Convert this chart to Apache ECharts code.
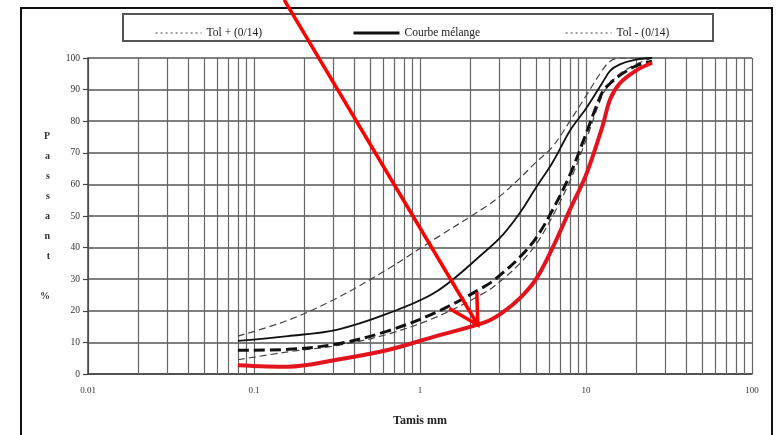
<!DOCTYPE html>
<html>
<head>
<meta charset="utf-8">
<script src="https://cdn.jsdelivr.net/npm/echarts@6/dist/echarts.min.js"></script>
<style>
html,body{margin:0;padding:0;background:#fff;}
#c{width:782px;height:435px;}
</style>
</head>
<body>
<div id="c"></div>
<script>
// Sieve sizes (mm)
const sieves = [0.08, 0.16, 0.315, 0.63, 1.25, 2.5, 3.15, 4, 5, 6.3, 8, 10, 12.5, 14, 16, 20, 25];
// Passing (%)
const tolPlus   = [12, 17, 24, 33, 43, 53, 57, 62, 67, 72, 80, 88, 96, 99, 100, 100, 100];
const melange   = [10.5, 12, 14, 19, 26, 39, 44, 51, 59, 67, 77, 84, 92, 96, 98, 99.5, 100];
const tolMinus  = [4.5, 7, 9, 12.5, 18, 26, 30, 35, 41, 50, 61, 74, 88, 92, 95, 98, 100];
const courbeB   = [7.5, 7.8, 9.5, 13.5, 19.5, 28, 32, 37, 43, 52, 63, 76, 89, 92, 94.5, 97.5, 99];
const courbeRed = [2.8, 2.3, 4.5, 7.5, 12, 16.5, 19.5, 24, 30, 40, 52, 63, 78, 87, 92, 96, 98.5];
// Axis ticks
const yTicks = [0, 10, 20, 30, 40, 50, 60, 70, 80, 90, 100];
const xMajor = [0.01, 0.1, 1, 10, 100];
const xMinor = [0.02,0.03,0.04,0.05,0.06,0.07,0.08,0.09,
                0.2,0.3,0.4,0.5,0.6,0.7,0.8,0.9,
                2,3,4,5,6,7,8,9,
                20,30,40,50,60,70,80,90];
// Annotation arrow (data coordinates)
const arrowStart = [0.152, 118.4];
const arrowTip = [2.23, 15.5];

const pairs = (ys) => sieves.map((x, i) => [x, ys[i]]);
const serif = '"Liberation Serif", "DejaVu Serif", serif';

const chart = echarts.init(document.getElementById('c'), null, {renderer: 'canvas'});

const legendBase = {
  top: 22, itemWidth: 46, itemHeight: 10, itemGap: 4,
  textStyle: {fontFamily: serif, fontSize: 11.5, color: '#222'},
  selectedMode: false
};
const noSym = {opacity: 0, borderWidth: 0};

const option = {
  animation: false,
  backgroundColor: '#fff',
  grid: {left: 88, right: 30, top: 58, bottom: 61, containLabel: false},
  legend: [
    Object.assign({}, legendBase, {left: 150, data: [{name: 'Tol + (0/14)', itemStyle: noSym, lineStyle: {width: 1.2, type: [2, 3], color: '#444'}}]}),
    Object.assign({}, legendBase, {left: 347, data: [{name: 'Courbe mélange', itemStyle: noSym, lineStyle: {width: 3, type: 'solid', color: '#111'}}]}),
    Object.assign({}, legendBase, {left: 560, data: [{name: 'Tol - (0/14)', itemStyle: noSym, lineStyle: {width: 1.2, type: [2, 3], color: '#444'}}]})
  ],
  xAxis: {
    type: 'log', logBase: 10, min: 0.01, max: 100,
    name: 'Tamis mm', nameLocation: 'middle', nameGap: 41,
    nameTextStyle: {fontFamily: serif, fontSize: 12, fontWeight: 'bold', color: '#222'},
    axisLine: {show: true, lineStyle: {color: '#444', width: 1.5}},
    axisTick: {show: false},
    axisLabel: {fontFamily: serif, fontSize: 9, color: '#333', margin: 12,
      formatter: (v) => xMajor.some(m => Math.abs(m - v) / m < 1e-6) ? String(v) : ''},
    splitLine: {show: true, lineStyle: {color: '#666', width: 1.2}}
  },
  yAxis: {
    type: 'value', min: 0, max: 100, interval: 10,
    name: 'P\na\ns\ns\na\nn\nt\n\n%', nameLocation: 'middle', nameGap: 38, nameRotate: 0,
    nameTextStyle: {fontFamily: serif, fontSize: 10, fontWeight: 'bold', color: '#333', lineHeight: 20},
    axisLine: {show: true, lineStyle: {color: '#444', width: 1.5}},
    axisTick: {show: true, length: 5, lineStyle: {color: '#444', width: 1.2}},
    axisLabel: {fontFamily: serif, fontSize: 9.5, color: '#333', margin: 8,
      formatter: (v) => yTicks.includes(v) ? String(v) : ''},
    splitLine: {show: true, lineStyle: {color: '#555', width: 1.5}}
  },
  series: [
    {
      name: 'Tol + (0/14)', type: 'line', data: pairs(tolPlus), smooth: 0.35,
      showSymbol: false, symbol: 'none', z: 3, itemStyle: {color: '#444'},
      lineStyle: {color: '#444', width: 1.2, type: [7, 4]},
      markLine: {
        silent: true, symbol: ['none', 'none'], label: {show: false},
        lineStyle: {color: '#666', width: 1.2, type: 'solid'},
        data: xMinor.map(v => ({xAxis: v})), z: 1
      }
    },
    {
      name: 'Courbe mélange', type: 'line', data: pairs(melange), smooth: 0.35,
      showSymbol: false, symbol: 'none', z: 4, itemStyle: {color: '#111'},
      lineStyle: {color: '#111', width: 1.8, type: 'solid'}
    },
    {
      name: 'Tol - (0/14)', type: 'line', data: pairs(tolMinus), smooth: 0.35,
      showSymbol: false, symbol: 'none', z: 3, itemStyle: {color: '#444'},
      lineStyle: {color: '#444', width: 1.2, type: [7, 4]}
    },
    {
      name: 'Courbe 2', type: 'line', data: pairs(courbeB), smooth: 0.35,
      showSymbol: false, symbol: 'none', z: 5, itemStyle: {color: '#111'},
      lineStyle: {color: '#111', width: 3, type: [11, 5]}
    },
    {
      name: 'Courbe 3', type: 'line', data: pairs(courbeRed), smooth: 0.35,
      showSymbol: false, symbol: 'none', z: 6, itemStyle: {color: '#e3141e'},
      lineStyle: {color: '#e3141e', width: 4, type: 'solid'}
    }
  ]
};

chart.setOption(option);

// Frame, legend box and arrow annotation
const p0 = chart.convertToPixel({xAxisIndex: 0, yAxisIndex: 0}, arrowStart);
const p1 = chart.convertToPixel({xAxisIndex: 0, yAxisIndex: 0}, arrowTip);
const ang = Math.atan2(p0[1] - p1[1], p0[0] - p1[0]);
const wing = 33, spread = 29 * Math.PI / 180;
const w1 = [p1[0] + wing * Math.cos(ang + spread), p1[1] + wing * Math.sin(ang + spread)];
const w2 = [p1[0] + wing * Math.cos(ang - spread), p1[1] + wing * Math.sin(ang - spread)];

chart.setOption({
  graphic: [
    {type: 'rect', shape: {x: 21, y: 8, width: 751, height: 440}, style: {fill: 'none', stroke: '#111', lineWidth: 2}, z: 0, silent: true},
    {type: 'rect', shape: {x: 123, y: 14, width: 590, height: 27}, style: {fill: 'none', stroke: '#555', lineWidth: 2}, z: 0, silent: true},
    {type: 'polyline', shape: {points: [p0, p1]}, style: {stroke: '#f00', lineWidth: 3.5, fill: 'none'}, z: 100, silent: true},
    {type: 'polyline', shape: {points: [w1, p1, w2]}, style: {stroke: '#f00', lineWidth: 3.5, fill: 'none', lineJoin: 'miter'}, z: 100, silent: true}
  ]
});
</script>
</body>
</html>
